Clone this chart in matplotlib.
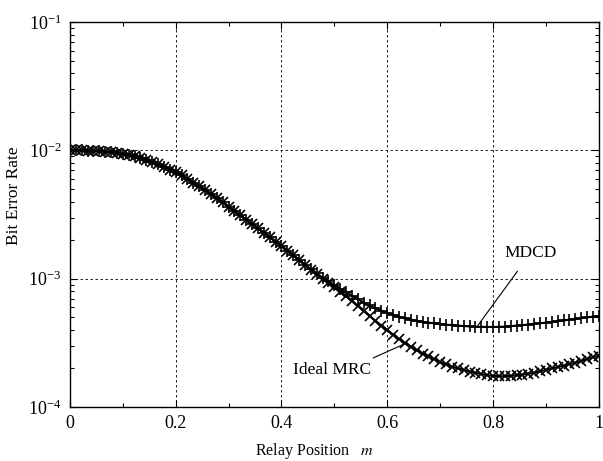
import matplotlib
matplotlib.use("Agg")
import matplotlib.pyplot as plt
import numpy as np
from matplotlib.ticker import MultipleLocator, LogLocator, NullFormatter

# relay position, 91 samples between source (0) and destination (1)
position = np.linspace(0, 1, 91)

x_ticks = [0, 0.2, 0.4, 0.6, 0.8, 1]
x_tick_labels = ["0", "0.2", "0.4", "0.6", "0.8", "1"]

ber_mrc = [
    1.00e-2, 1.00e-2, 1.00e-2, 9.98e-3, 9.93e-3, 9.89e-3, 9.79e-3, 9.68e-3, 9.53e-3, 9.38e-3,
    9.18e-3, 8.98e-3, 8.73e-3, 8.47e-3, 8.17e-3, 7.82e-3, 7.46e-3, 7.10e-3, 6.76e-3, 6.38e-3,
    6.00e-3, 5.62e-3, 5.25e-3, 4.90e-3, 4.55e-3, 4.23e-3, 3.93e-3, 3.63e-3, 3.37e-3, 3.12e-3,
    2.88e-3, 2.67e-3, 2.47e-3, 2.28e-3, 2.10e-3, 1.95e-3, 1.80e-3, 1.66e-3, 1.52e-3, 1.40e-3,
    1.28e-3, 1.18e-3, 1.09e-3, 1.00e-3, 9.27e-4, 8.61e-4, 7.94e-4, 7.30e-4, 6.68e-4, 6.14e-4,
    5.62e-4, 5.13e-4, 4.70e-4, 4.32e-4, 3.98e-4, 3.67e-4, 3.40e-4, 3.16e-4, 2.95e-4, 2.77e-4,
    2.61e-4, 2.48e-4, 2.36e-4, 2.24e-4, 2.15e-4, 2.07e-4, 2.00e-4, 1.95e-4, 1.89e-4, 1.85e-4,
    1.81e-4, 1.77e-4, 1.75e-4, 1.74e-4, 1.74e-4, 1.75e-4, 1.77e-4, 1.79e-4, 1.82e-4, 1.85e-4,
    1.90e-4, 1.95e-4, 2.00e-4, 2.05e-4, 2.10e-4, 2.16e-4, 2.22e-4, 2.29e-4, 2.36e-4, 2.44e-4,
    2.51e-4,
]

ber_mdcd = [
    1.00e-2, 1.00e-2, 1.00e-2, 9.98e-3, 9.93e-3, 9.89e-3, 9.79e-3, 9.68e-3, 9.53e-3, 9.38e-3,
    9.18e-3, 8.98e-3, 8.73e-3, 8.47e-3, 8.17e-3, 7.82e-3, 7.46e-3, 7.10e-3, 6.76e-3, 6.38e-3,
    6.00e-3, 5.62e-3, 5.25e-3, 4.90e-3, 4.55e-3, 4.23e-3, 3.93e-3, 3.63e-3, 3.37e-3, 3.12e-3,
    2.88e-3, 2.67e-3, 2.47e-3, 2.28e-3, 2.10e-3, 1.95e-3, 1.80e-3, 1.66e-3, 1.52e-3, 1.40e-3,
    1.29e-3, 1.19e-3, 1.10e-3, 1.02e-3, 9.55e-4, 8.95e-4, 8.38e-4, 7.85e-4, 7.36e-4, 6.92e-4,
    6.53e-4, 6.19e-4, 5.89e-4, 5.62e-4, 5.40e-4, 5.21e-4, 5.05e-4, 4.91e-4, 4.80e-4, 4.70e-4,
    4.61e-4, 4.55e-4, 4.49e-4, 4.44e-4, 4.39e-4, 4.35e-4, 4.31e-4, 4.28e-4, 4.25e-4, 4.23e-4,
    4.22e-4, 4.21e-4, 4.21e-4, 4.22e-4, 4.24e-4, 4.27e-4, 4.31e-4, 4.35e-4, 4.40e-4, 4.45e-4,
    4.50e-4, 4.55e-4, 4.60e-4, 4.67e-4, 4.73e-4, 4.80e-4, 4.86e-4, 4.93e-4, 5.00e-4, 5.06e-4,
    5.13e-4,
]

plt.rcParams["font.family"] = ["Liberation Serif", "DejaVu Serif"]
plt.rcParams["mathtext.fontset"] = "stix"

fig = plt.figure(figsize=(6.03, 4.61), dpi=100)
ax = fig.add_axes([0.116, 0.117, 0.877, 0.835])

ax.semilogy(position, ber_mdcd, color="black", linewidth=1.5, marker="+",
            markersize=8, markeredgewidth=1.2)
ax.semilogy(position, ber_mrc, color="black", linewidth=1.5, marker="x",
            markersize=7.5, markeredgewidth=1.2)

ax.set_xlim(0, 1)
ax.set_ylim(1e-4, 1e-1)
ax.set_xticks(x_ticks, x_tick_labels)
ax.xaxis.set_minor_locator(MultipleLocator(0.1))
ax.yaxis.set_major_locator(LogLocator(base=10, numticks=10))
ax.yaxis.set_minor_locator(LogLocator(base=10, subs=np.arange(2, 10), numticks=10))
ax.yaxis.set_minor_formatter(NullFormatter())

ax.tick_params(which="both", direction="in", top=True, right=True, labelsize=13, pad=6)
ax.tick_params(which="major", length=5, width=0.8)
ax.tick_params(which="minor", length=3, width=0.8)
ax.grid(True, which="major", color="black", linestyle=(0, (3, 3)), linewidth=0.6)
for spine in ax.spines.values():
    spine.set_linewidth(1.0)

ax.set_xlabel("Relay Position   $m$", fontsize=11.5)
ax.set_ylabel("Bit Error Rate", fontsize=12.5)
ax.xaxis.set_label_coords(0.463, -0.087)
ax.yaxis.set_label_coords(-0.091, 0.548)

ax.annotate("MDCD", xy=(0.770, 4.25e-4), xytext=(0.872, 1.6e-3),
            ha="center", va="center", fontsize=12.5,
            arrowprops=dict(arrowstyle="-", color="black", linewidth=0.8,
                            shrinkA=7, shrinkB=0))
ax.annotate("Ideal MRC", xy=(0.633, 3.11e-4), xytext=(0.496, 1.93e-4),
            ha="center", va="center", fontsize=12.5,
            arrowprops=dict(arrowstyle="-", color="black", linewidth=0.8,
                            shrinkA=3, shrinkB=0,
                            relpos=(0.85, 0.9)))

fig.savefig("out.png", dpi=100)
